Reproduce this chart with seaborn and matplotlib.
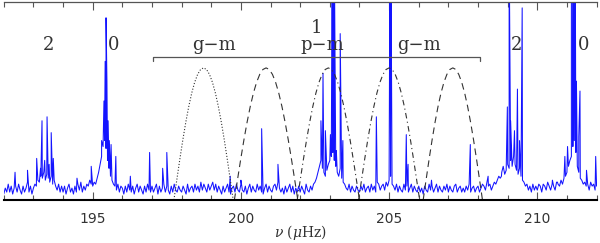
import numpy as np
import pandas as pd
import matplotlib
matplotlib.use("Agg")
import matplotlib.pyplot as plt
import seaborn as sns

# ---------------- data ----------------
# background noise level (hundredths of axis height), 0.05 uHz grid from 192 to 212
noise_pct = [
    3,6,4,8,4,7,3,6,7,4,8,5,3,7,4,6,9,4,7,3,            # 192
    6,8,7,10,9,12,11,14,10,13,11,9,12,8,10,7,5,8,4,7,   # 193
    4,7,3,6,8,4,6,3,7,4,8,5,9,4,7,5,8,7,10,8,           # 194
    7,9,8,11,14,18,22,27,30,26,20,16,12,10,8,7,5,8,4,7, # 195
    6,3,7,4,8,5,4,7,3,6,8,4,7,5,3,7,4,8,5,4,            # 196
    7,4,6,8,3,7,4,6,8,4,7,5,3,7,4,8,5,4,7,5,            # 197
    4,7,5,3,8,4,6,7,4,8,5,7,4,9,5,8,6,4,8,5,            # 198
    7,9,5,8,4,7,5,3,7,4,6,8,4,3,6,7,4,8,5,4,            # 199
    8,5,4,7,3,6,8,4,7,5,4,8,5,7,4,3,6,8,4,7,            # 200
    5,4,7,8,5,9,6,4,6,3,7,4,6,8,4,7,3,6,4,7,            # 201
    4,7,5,3,8,5,4,7,5,8,9,11,14,17,20,16,14,12,15,18,   # 202
    20,22,24,20,17,14,12,16,11,9,8,6,5,8,4,7,5,4,7,5,   # 203
    4,7,5,8,4,6,7,4,8,5,7,4,9,8,5,7,8,5,9,7,            # 204
    10,12,8,7,5,8,4,7,5,4,8,5,7,4,6,8,4,7,5,4,          # 205
    7,4,6,3,7,5,4,8,5,7,4,6,8,4,7,5,4,7,5,8,            # 206
    4,7,5,4,7,8,4,6,7,4,6,4,7,5,8,4,6,7,4,6,            # 207
    7,4,6,8,7,5,9,7,8,5,7,9,8,10,12,11,14,17,13,15,     # 208
    18,16,20,17,22,18,15,13,16,12,10,9,7,8,5,7,4,8,5,7, # 209
    5,8,7,4,8,7,5,9,7,5,8,7,5,9,8,7,10,8,11,12,         # 210
    14,17,20,22,27,30,24,17,14,11,10,8,9,7,8,5,9,7,8,5, # 211
    7,                                                  # 212
]
noise_freq = np.linspace(192.0, 212.0, len(noise_pct))

# individual spectral peaks (frequency in uHz, height as fraction of axis)
peak_freq = [192.38, 192.80, 193.11, 193.24, 193.29, 193.38, 193.46, 193.53, 193.60, 193.67,
             194.47, 194.95, 195.30, 195.38, 195.42, 195.45, 195.48, 195.52, 195.56, 195.62,
             195.78, 196.27, 196.92, 197.36, 197.50, 199.64, 200.00, 200.70, 201.25,
             202.70, 202.77, 202.85, 203.02, 203.08, 203.12, 203.15, 203.22, 203.35, 203.44,
             204.57, 205.03, 205.06, 205.58, 205.64, 206.43, 207.74, 208.34, 208.79,
             208.99, 209.05, 209.10, 209.23, 209.33, 209.40, 209.49, 210.51, 210.68,
             210.93, 211.02, 211.15, 211.19, 211.23, 211.28, 211.32, 211.40, 211.44,
             211.66, 211.97]
peak_power = [0.14, 0.15, 0.21, 0.16, 0.40, 0.20, 0.42, 0.18, 0.34, 0.21,
              0.11, 0.17, 0.30, 0.50, 0.70, 0.92, 0.60, 0.40, 0.30, 0.28,
              0.22, 0.12, 0.24, 0.16, 0.24, 0.12, 0.10, 0.36, 0.18,
              0.40, 0.64, 0.35, 0.33, 1.30, 1.30, 1.30, 0.25, 0.84, 0.30,
              0.42, 1.30, 1.30, 0.33, 0.18, 0.10, 0.28, 0.12, 0.12,
              0.47, 1.30, 0.40, 0.35, 0.56, 0.30, 0.97, 0.10, 0.09,
              0.22, 0.27, 1.30, 1.30, 1.30, 1.30, 0.60, 0.32, 0.55,
              0.15, 0.22]

# model humps
hump_center = [198.74, 200.85, 202.95, 205.00, 207.15]
hump_halfwidth = [1.00, 1.07, 1.05, 1.03, 1.00]
hump_height = [0.667, 0.667, 0.667, 0.667, 0.667]
hump_style = [":", (0, (6, 4)), (0, (5, 3, 1, 3)), (0, (5, 3, 1, 3)), (0, (6, 4))]
hump_offset = [-1.0, -0.9, -0.8, -0.7, -0.6, -0.5, -0.4, -0.3, -0.2, -0.1, 0.0,
               0.1, 0.2, 0.3, 0.4, 0.5, 0.6, 0.7, 0.8, 0.9, 1.0]
hump_profile = [0.0, 0.156, 0.309, 0.454, 0.588, 0.707, 0.809, 0.891, 0.951, 0.988, 1.0,
                0.988, 0.951, 0.891, 0.809, 0.707, 0.588, 0.454, 0.309, 0.156, 0.0]

# annotations
label_text = ["2", "0", "g\u2212m", "1", "p\u2212m", "g\u2212m", "2", "0"]
label_x = [193.52, 195.71, 199.08, 202.54, 202.74, 206.00, 209.30, 211.56]
label_y = [0.757, 0.757, 0.757, 0.845, 0.757, 0.757, 0.757, 0.757]
bracket_x = [197.03, 208.05]
bracket_y = 0.722

xticks = [195, 200, 205, 210]

# ---------------- plot ----------------
sns.set_style("white")
plt.rcParams["font.family"] = ["DejaVu Serif", "DejaVu Sans"]
plt.rcParams["mathtext.fontset"] = "dejavuserif"

spec = pd.DataFrame({
    "freq": np.concatenate([noise_freq, np.array(peak_freq)]),
    "power": np.concatenate([np.array(noise_pct) / 100.0, np.array(peak_power)]),
}).sort_values("freq")

fig = plt.figure(figsize=(6.0, 2.43), dpi=100)
ax = fig.add_axes([0.0063, 0.177, 0.988, 0.815])

sns.lineplot(data=spec, x="freq", y="power", ax=ax, color="#1414ff",
             lw=0.75, estimator=None, sort=True)

for c, hw, h, ls in zip(hump_center, hump_halfwidth, hump_height, hump_style):
    hx = c + hw * np.array(hump_offset)
    hy = h * np.array(hump_profile)
    ax.plot(hx, hy, color="#333333", lw=0.8, linestyle=ls)

ax.plot([bracket_x[0], bracket_x[0], bracket_x[1], bracket_x[1]],
        [bracket_y - 0.02, bracket_y, bracket_y, bracket_y - 0.02],
        color="#555555", lw=0.9)

for t, x, y in zip(label_text, label_x, label_y):
    ax.text(x, y, t, ha="center", va="baseline", fontsize=13, color="#333333")

ax.set_xlim(192, 212)
ax.set_ylim(0, 1)
ax.set_yticks([])
ax.set_ylabel("")
ax.set_xticks(xticks)
ax.set_xticks(np.arange(192, 213, 1), minor=True)
ax.set_xticklabels([str(v) for v in xticks], family="DejaVu Sans")
ax.tick_params(axis="x", which="both", direction="in", top=True, bottom=True,
               colors="#555555", labelcolor="#333333", labelsize=10, pad=9)
ax.tick_params(axis="x", which="major", length=6, width=0.8)
ax.tick_params(axis="x", which="minor", length=3.5, width=0.8)

ax.set_xlabel(r"$\nu$ ($\mu$Hz)", fontsize=10, color="#333333")
ax.xaxis.label.set_va("center")
ax.xaxis.set_label_coords(0.5, -0.165)

for s in ["left", "right"]:
    ax.spines[s].set_visible(False)
ax.spines["bottom"].set_color("black")
ax.spines["bottom"].set_linewidth(1.5)
ax.spines["bottom"].set_zorder(5)
ax.spines["top"].set_color("#555555")
ax.spines["top"].set_linewidth(0.9)

fig.savefig("out.png", dpi=100)
